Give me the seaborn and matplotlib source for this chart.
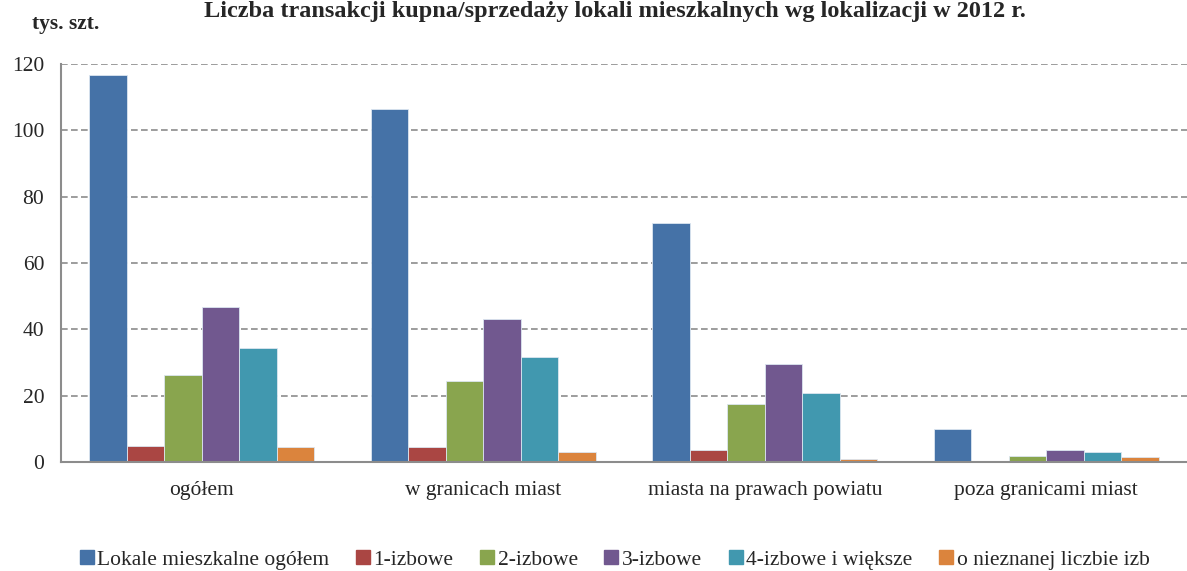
import numpy as np
import pandas as pd
import matplotlib.pyplot as plt
from matplotlib.lines import Line2D
from matplotlib.ticker import FixedLocator
import seaborn as sns

# Data (tys. szt.)
lokalizacje = ["ogółem", "w granicach miast", "miasta na prawach powiatu", "poza granicami miast"]
typy = ["Lokale mieszkalne ogółem", "1-izbowe", "2-izbowe", "3-izbowe",
        "4-izbowe i większe", "o nieznanej liczbie izb"]
ogolem_lok = [116.7, 106.4, 72.0, 9.9]
izb_1 = [4.8, 4.5, 3.6, np.nan]
izb_2 = [26.3, 24.4, 17.5, 1.9]
izb_3 = [46.7, 43.1, 29.5, 3.5]
izb_4 = [34.5, 31.6, 20.8, 2.9]
nieznane = [4.4, 3.0, 0.9, 1.6]

colors = ["#4572A7", "#AA4643", "#89A54E", "#71588F", "#4198AF", "#DB843D"]

series = [ogolem_lok, izb_1, izb_2, izb_3, izb_4, nieznane]
rows = []
for typ, vals in zip(typy, series):
    for lok, v in zip(lokalizacje, vals):
        rows.append({"lokalizacja": lok, "typ": typ, "wartosc": v})
df = pd.DataFrame(rows)

sns.set_style("white")
plt.rcParams["font.family"] = ["Liberation Serif", "DejaVu Serif"]
plt.rcParams["font.size"] = 15.5

fig = plt.figure(figsize=(11.87, 5.71), dpi=100)
ax = fig.add_axes([0.0514, 0.191, 0.9486, 0.697])

sns.barplot(data=df, x="lokalizacja", y="wartosc", hue="typ", order=lokalizacje,
            hue_order=typy, palette=colors, saturation=1, width=0.8,
            edgecolor="#dce6f0", linewidth=0.6, legend=False, ax=ax)

ax.set_xlim(-0.5, 3.5)
ax.set_ylim(0, 120)
ax.set_yticks(range(0, 121, 20))
ax.yaxis.grid(True, linestyle=(0, (4, 2)), color="#8c8c8c", linewidth=1.2)
ax.set_axisbelow(True)
ax.set_xlabel("")
ax.set_ylabel("")

for s in ["top", "right"]:
    ax.spines[s].set_visible(False)
for s in ["left", "bottom"]:
    ax.spines[s].set_color("#8c8c8c")
    ax.spines[s].set_linewidth(1.5)

ax.tick_params(axis="x", which="major", length=0, pad=14, labelsize=15.5)
ax.xaxis.set_minor_locator(FixedLocator([0.5, 1.5, 2.5]))
ax.tick_params(axis="x", which="minor", length=7, width=1.5, color="#8c8c8c")
ax.tick_params(axis="y", length=6, width=1.5, color="#8c8c8c", pad=6, labelsize=15.5)

fig.text(0.518, 0.998, "Liczba transakcji kupna/sprzedaży lokali mieszkalnych wg lokalizacji w 2012 r.",
         ha="center", va="top", fontsize=17.5, fontweight="bold")
fig.text(0.027, 0.958, "tys. szt.", ha="left", va="center", fontsize=15.5, fontweight="bold")

handles = [Line2D([], [], marker="s", linestyle="none", markersize=10,
                  markerfacecolor=c, markeredgecolor=c) for c in colors]
fig.legend(handles, typy, loc="lower center", bbox_to_anchor=(0.518, -0.032), ncol=6,
           frameon=False, handlelength=0.6, handletextpad=0.2, columnspacing=1.25,
           fontsize=15.5)

fig.savefig("out.png", dpi=100)
